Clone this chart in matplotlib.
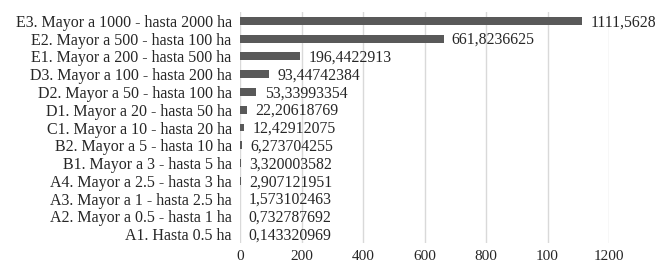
import matplotlib.pyplot as plt

plt.rcParams['font.family'] = ['Liberation Serif', 'DejaVu Serif']

# categories from bottom to top
categorias = [
    'A1. Hasta 0.5 ha',
    'A2. Mayor a 0.5 - hasta 1 ha',
    'A3. Mayor a 1 - hasta 2.5 ha',
    'A4. Mayor a 2.5 - hasta 3 ha',
    'B1. Mayor a 3 - hasta 5 ha',
    'B2. Mayor a 5 - hasta 10 ha',
    'C1. Mayor a 10 - hasta 20 ha',
    'D1. Mayor a 20 - hasta 50 ha',
    'D2. Mayor a 50 - hasta 100 ha',
    'D3. Mayor a 100 - hasta 200 ha',
    'E1. Mayor a 200 - hasta 500 ha',
    'E2. Mayor a 500 - hasta 100 ha',
    'E3. Mayor a 1000 - hasta 2000 ha',
]
valores = [0.143320969, 0.732787692, 1.573102463, 2.907121951, 3.320003582,
           6.273704255, 12.42912075, 22.20618769, 53.33993354, 93.44742384,
           196.4422913, 661.8236625, 1111.5628]
ticks_x = [0, 200, 400, 600, 800, 1000, 1200]
etiquetas_x = ['0', '200', '400', '600', '800', '100', '1200']

fig = plt.figure(figsize=(6.56, 2.63), dpi=100)
ax = fig.add_axes([240 / 656, 20 / 263, 369 / 656, 231 / 263])

pos = range(len(categorias))
ax.barh(pos, valores, height=0.45, color='#595959', zorder=3)

for i, v in enumerate(valores):
    ax.annotate(str(v).replace('.', ','), (v, i), xytext=(6, -1),
                textcoords='offset points', va='center', ha='left',
                fontsize=11.3, color='#262626')

ax.set_yticks(list(pos))
ax.set_yticklabels(categorias, fontsize=11.5, color='#262626')
ax.set_xticks(ticks_x)
ax.set_xticklabels(etiquetas_x, fontsize=11, color='#262626')
ax.set_xlim(0, 1200)
ax.set_ylim(-0.5, len(categorias) - 0.5)
ax.tick_params(axis='x', length=0, pad=5)
ax.tick_params(axis='y', length=0, pad=6)
ax.grid(axis='x', color='#d9d9d9', linewidth=1, zorder=0)
for s in ax.spines.values():
    s.set_visible(False)

fig.savefig('out.png', dpi=100)
